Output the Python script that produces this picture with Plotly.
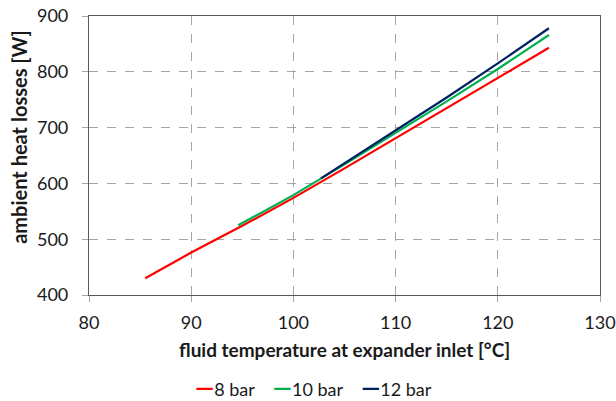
import plotly.graph_objects as go

# data
t_8 = [85.5, 90, 95, 100, 105, 110, 115, 120, 125]
q_8 = [430, 476, 524, 574, 627, 681, 736, 790, 843]
t_10 = [94.6, 100, 105, 110, 115, 120, 125]
q_10 = [525, 579, 634, 690, 747, 805, 866]
t_12 = [102.7, 105, 110, 115, 120, 125]
q_12 = [609, 636, 695, 754, 815, 878]
names = ["8 bar", "10 bar", "12 bar"]
colors = ["#FF0000", "#00B050", "#002060"]

FONT = "Lato"

fig = go.Figure()
for t, q, n, c in [(t_8, q_8, names[0], colors[0]),
                   (t_10, q_10, names[1], colors[1]),
                   (t_12, q_12, names[2], colors[2])]:
    fig.add_trace(go.Scatter(x=t, y=q, name=n, mode="lines",
                             line=dict(color=c, width=2.2), showlegend=False))

axis_common = dict(
    showgrid=True, gridcolor="#A6A6A6", griddash="dash", gridwidth=1,
    showline=True, linecolor="#595959", linewidth=1.2, mirror=True,
    ticks="outside", ticklen=6, tickcolor="#A6A6A6",
    tickfont=dict(family=FONT, size=18, color="#1a1a1a"),
    zeroline=False, automargin=False,
)
fig.update_xaxes(range=[80, 130], dtick=10, ticklabelstandoff=5, **axis_common)
fig.update_yaxes(range=[400, 900], dtick=100, ticklabelstandoff=10, **axis_common)

legend_text = "&nbsp;&nbsp;&nbsp;&nbsp;".join(
    f"<span style='color:{c};font-size:24px'><b>—</b></span>{n}" for n, c in zip(names, colors)
)

fig.update_layout(
    width=616, height=401,
    margin=dict(l=89, r=16, t=16, b=106),
    plot_bgcolor="white", paper_bgcolor="white",
    font=dict(family=FONT, color="#1a1a1a"),
    showlegend=False,
    annotations=[
        dict(text="<b>fluid temperature at expander inlet [°C]</b>", xref="paper", yref="paper",
             x=0.5, y=-0.197, xanchor="center", yanchor="middle", showarrow=False,
             font=dict(family=FONT, size=19)),
        dict(text="<b>ambient heat losses [W]</b>", xref="paper", yref="paper",
             x=-0.137, y=0.567, xanchor="center", yanchor="middle", textangle=-90,
             showarrow=False, font=dict(family=FONT, size=20)),
        dict(text=legend_text, xref="paper", yref="paper",
             x=0.44, y=-0.329, xanchor="center", yanchor="middle", showarrow=False,
             font=dict(family=FONT, size=18)),
    ],
)

fig.write_html("out.html")
